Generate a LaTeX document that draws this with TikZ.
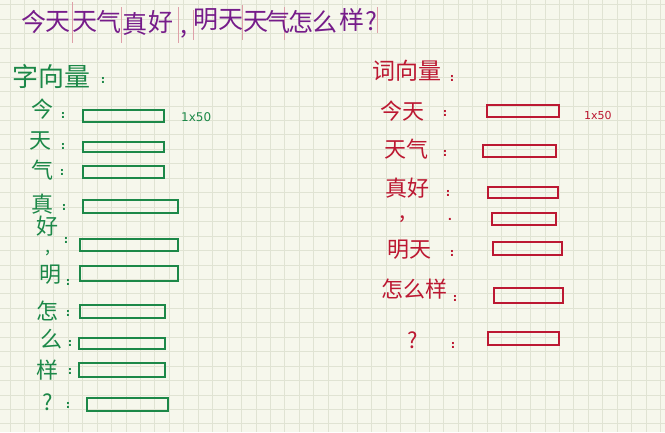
\documentclass[tikz,border=0pt]{standalone}
\usepackage{fontspec}
\newfontfamily\cjk{Noto Sans CJK SC}
\setmainfont{DejaVu Sans}
\definecolor{paper}{RGB}{246,247,236}
\definecolor{gridc}{RGB}{224,227,211}
\definecolor{ttlpurple}{RGB}{118,28,138}
\definecolor{ggreen}{RGB}{28,136,72}
\definecolor{rred}{RGB}{188,24,50}
\definecolor{sepc}{RGB}{222,160,168}
\tikzset{
  ttl/.style={text=ttlpurple, font=\cjk\fontsize{25}{25}\selectfont, inner sep=0pt},
  ghead/.style={text=ggreen, font=\cjk\fontsize{26}{26}\selectfont, inner sep=0pt},
  rhead/.style={text=rred, font=\cjk\fontsize{23}{23}\selectfont, inner sep=0pt},
  gtxt/.style={text=ggreen, font=\cjk\fontsize{22}{22}\selectfont, inner sep=0pt},
  rtxt/.style={text=rred, font=\cjk\fontsize{22}{22}\selectfont, inner sep=0pt},
  gcol/.style={text=ggreen, font=\fontsize{11}{11}\selectfont\bfseries, inner sep=0pt},
  rcol/.style={text=rred, font=\fontsize{11}{11}\selectfont\bfseries, inner sep=0pt},
  gsize/.style={text=ggreen, font=\fontsize{12}{12}\selectfont, inner sep=0pt},
  rsize/.style={text=rred, font=\fontsize{11}{11}\selectfont, inner sep=0pt},
  gbox/.style={draw=ggreen, line width=2.2pt, inner sep=0pt, rectangle},
  rbox/.style={draw=rred, line width=2pt, inner sep=0pt, rectangle},
  sepline/.style={draw=sepc, line width=0.8pt},
}
\newcommand{\gbx}[5]{\node[gbox, minimum width=#3-#2, minimum height=#5-#4] (#1) at ({(#2+#3)/2},{(#4+#5)/2}) {};}
\newcommand{\rbx}[5]{\node[rbox, minimum width=#3-#2, minimum height=#5-#4] (#1) at ({(#2+#3)/2},{(#4+#5)/2}) {};}
\begin{document}
\begin{tikzpicture}[x=1pt,y=-1pt]
\useasboundingbox (0,0) rectangle (665,432);
\fill[paper] (0,0) rectangle (665,432);
\foreach \k in {0,...,45} {\draw[gridc, line width=0.9pt] ({10.35+14.45*\k},0) -- ({10.35+14.45*\k},432);}
\foreach \k in {0,...,29} {\draw[gridc, line width=0.9pt] (0,{4.85+14.45*\k}) -- (665,{4.85+14.45*\k});}

% title separator marks
\coordinate (s1a) at (72,2);  \coordinate (s1b) at (72,43);
\coordinate (s2a) at (121,7); \coordinate (s2b) at (121,43);
\coordinate (s3a) at (178,7); \coordinate (s3b) at (178,43);
\coordinate (s4a) at (193,10);\coordinate (s4b) at (193,40);
\coordinate (s5a) at (242,5); \coordinate (s5b) at (242,40);
\coordinate (s6a) at (284,7); \coordinate (s6b) at (284,40);
\coordinate (s7a) at (377,7); \coordinate (s7b) at (377,33);
\foreach \i in {1,...,7} {\draw[sepline] (s\i a) -- (s\i b);}

% title
\node[ttl] (t1) at (34,22) {今};
\node[ttl] (t2) at (58,22) {天};
\node[ttl] (t3) at (85,22) {天};
\node[ttl] (t4) at (109,22) {气};
\node[ttl] (t5) at (135,24) {真};
\node[ttl] (t6) at (161,22) {好};
\node[ttl] (t7) at (184,34) {,};
\node[ttl] (t8) at (206,20) {明};
\node[ttl] (t9) at (231,20) {天};
\node[ttl] (t10) at (256,22) {天};
\node[ttl] (t11) at (278,22) {气};
\node[ttl] (t12) at (301,22) {怎};
\node[ttl] (t13) at (325,22) {么};
\node[ttl] (t14) at (352,20) {样};
\node[ttl] (t15) at (371,21) {?};

% left: character vectors
\node[ghead, anchor=west] (gh) at (12,77) {字向量};
\node[gcol] (ghc) at (103,80) {:};

\node[gtxt] (gc1) at (42,109) {今};  \node[gcol] (gk1) at (63,115) {:};
\gbx{gb1}{83}{164}{110}{122}
\node[gsize, anchor=west] (gs) at (181,117) {1x50};
\node[gtxt] (gc2) at (41,141) {天};  \node[gcol] (gk2) at (63,146) {:};
\gbx{gb2}{83}{164}{142}{152}
\node[gtxt] (gc3) at (42,170) {气};  \node[gcol] (gk3) at (62,172) {:};
\gbx{gb3}{83}{164}{166}{178}
\node[gtxt] (gc4) at (42,204) {真};  \node[gcol] (gk4) at (64,207) {:};
\gbx{gb4}{83}{178}{200}{213}
\node[gtxt] (gc5) at (47,226) {好};  \node[gcol] (gk5) at (66,240) {:};
\gbx{gb5}{80}{178}{239}{251}
\node[gtxt, font=\cjk\fontsize{18}{18}\selectfont] (gc6) at (48,253) {,};
\node[gtxt] (gc7) at (50,275) {明};  \node[gcol] (gk7) at (68,282) {:};
\gbx{gb7}{80}{178}{266}{281}
\node[gtxt] (gc8) at (48,311) {怎};  \node[gcol] (gk8) at (68,313) {:};
\gbx{gb8}{80}{165}{305}{318}
\node[gtxt] (gc9) at (51,339) {么};  \node[gcol] (gk9) at (70,343) {:};
\gbx{gb9}{79}{165}{338}{349}
\node[gtxt] (gc10) at (48,370) {样}; \node[gcol] (gk10) at (70,371) {:};
\gbx{gb10}{79}{165}{363}{377}
\node[gtxt] (gc11) at (48,402) {?}; \node[gcol] (gk11) at (68,405) {:};
\gbx{gb11}{87}{168}{398}{411}

% right: word vectors
\node[rhead, anchor=west] (rh) at (372,71) {词向量};
\node[rcol] (rhc) at (452,78) {:};

\node[rtxt] (rw1) at (402,111) {今天};  \node[rcol] (rk1) at (445,113) {:};
\rbx{rb1}{487}{559}{105}{117}
\node[rsize, anchor=west] (rs) at (584,115) {1x50};
\node[rtxt] (rw2) at (406,149) {天气};  \node[rcol] (rk2) at (445,153) {:};
\rbx{rb2}{483}{556}{145}{157}
\node[rtxt] (rw3) at (407,188) {真好};  \node[rcol] (rk3) at (448,193) {:};
\rbx{rb3}{488}{558}{187}{198}
\node[rtxt] (rw4) at (403,219) {,};    \node[rcol] (rk4) at (450,219) {.};
\rbx{rb4}{492}{556}{213}{225}
\node[rtxt] (rw5) at (409,250) {明天};  \node[rcol] (rk5) at (452,253) {:};
\rbx{rb5}{493}{562}{242}{255}
\node[rtxt] (rw6) at (414,289) {怎么样};\node[rcol] (rk6) at (455,298) {:};
\rbx{rb6}{494}{563}{288}{303}
\node[rtxt] (rw7) at (413,340) {?};    \node[rcol] (rk7) at (453,345) {:};
\rbx{rb7}{488}{559}{332}{345}
\end{tikzpicture}
\end{document}
